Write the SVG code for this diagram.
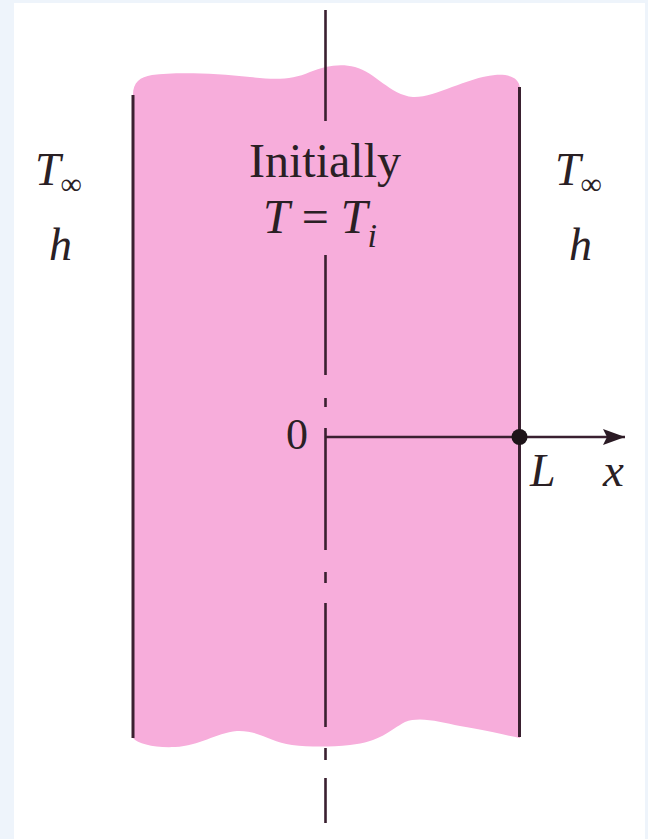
<svg xmlns="http://www.w3.org/2000/svg" width="648" height="839" viewBox="0 0 648 839">
  <style>
    .edge { stroke: #3a2030; stroke-width: 3; fill: none; stroke-linecap: butt; }
    .axis { stroke: #3a2030; stroke-width: 2.6; fill: none; }
    .lbl { font-family: "Liberation Serif", "Times New Roman", serif; fill: #2a2024; }
    .it { font-style: italic; }
  </style>
  <defs>
    <marker id="arrow" markerUnits="userSpaceOnUse" markerWidth="24" markerHeight="18" refX="22" refY="8" orient="auto">
      <path d="M0,0 L22,8 L0,16 L4,8 Z" fill="#2a1a24"/>
    </marker>
  </defs>

  <!-- background -->
  <rect x="0" y="0" width="648" height="839" fill="#ffffff"/>
  <rect x="0" y="0" width="14" height="839" fill="#eef4fb"/>
  <rect x="645" y="0" width="3" height="839" fill="#eef4fb"/>
  <rect x="0" y="0" width="648" height="3" fill="#eef4fb"/>

  <!-- slab -->
  <g id="slab">
    <path d="M133,95 C133,82 140,77 152,75 C175,72 215,73 250,77 C275,80 292,80 310,72 C325,66 340,63 355,67 C375,72 390,95 413,97 C435,98 465,78 495,75 C510,74 519,78 520,88 L520,738 C505,735 485,730 460,726 C440,722 420,716 405,722 C390,730 380,742 350,745 C330,747 310,747 292,745 C270,742 258,730 237,731 C215,733 200,746 175,747 C155,748 138,744 133,738 Z" fill="#f7addb"/>
    <line class="edge" x1="133" y1="95" x2="133" y2="738"/>
    <line class="edge" x1="519.5" y1="87" x2="519.5" y2="737"/>
  </g>

  <!-- connectors -->
  <g id="connectors">
    <path id="centerline" class="axis" d="M325.5,10 L325.5,121 M325.5,255 L325.5,375 M325.5,398 L325.5,407 M325.5,428 L325.5,550 M325.5,572 L325.5,583 M325.5,603 L325.5,727 M325.5,748 L325.5,760 M325.5,778 L325.5,823"/>
    <line id="x-axis" class="axis" x1="325.5" y1="437" x2="625" y2="437" marker-end="url(#arrow)"/>
    <circle id="point-L" cx="519.5" cy="437" r="8" fill="#1e1418"/>
  </g>

  <!-- labels -->
  <g id="label-initial">
    <text class="lbl" x="325" y="177" font-size="48" text-anchor="middle">Initially</text>
    <text class="lbl" x="263" y="233" font-size="48"><tspan class="it">T</tspan> = <tspan class="it">T</tspan><tspan class="it" font-size="34" dy="14">i</tspan></text>
  </g>
  <g id="label-left">
    <text class="lbl" x="35" y="185" font-size="46"><tspan class="it">T</tspan><tspan font-size="30" dy="9">∞</tspan></text>
    <text class="lbl it" x="49" y="260" font-size="46">h</text>
  </g>
  <g id="label-right">
    <text class="lbl" x="555" y="185" font-size="46"><tspan class="it">T</tspan><tspan font-size="30" dy="9">∞</tspan></text>
    <text class="lbl it" x="569" y="260" font-size="46">h</text>
  </g>
  <g id="label-axis">
    <text class="lbl" x="286" y="449" font-size="44">0</text>
    <text class="lbl it" x="530" y="486" font-size="46">L</text>
    <text class="lbl it" x="603" y="486" font-size="47">x</text>
  </g>
</svg>
